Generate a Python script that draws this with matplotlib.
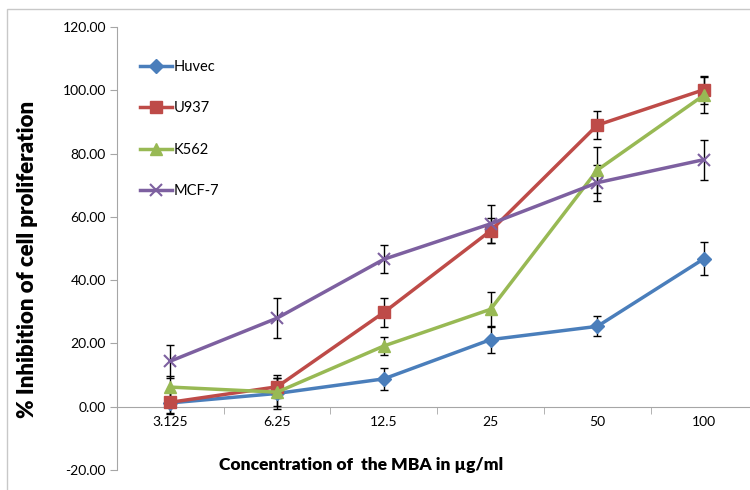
import numpy as np
import matplotlib
matplotlib.use("Agg")
import matplotlib.pyplot as plt
from matplotlib.patches import Rectangle

plt.rcParams['font.family'] = ['Lato', 'DejaVu Sans']

# ==== data ====
conc = ['3.125', '6.25', '12.5', '25', '50', '100']

huvec = [1.2, 4.2, 8.8, 21.2, 25.4, 46.8]
huvec_err = [3.5, 5.0, 3.4, 4.1, 3.2, 5.1]

u937 = [1.4, 6.3, 29.8, 55.6, 89.0, 100.2]
u937_err = [3.5, 3.6, 4.5, 4.0, 4.5, 4.4]

k562 = [6.2, 4.6, 19.2, 30.8, 74.8, 98.5]
k562_err = [3.4, 4.5, 2.9, 5.4, 7.2, 5.6]

mcf7 = [14.4, 28.0, 46.6, 57.8, 70.8, 78.1]
mcf7_err = [5.2, 6.2, 4.5, 6.1, 5.7, 6.3]

series = [
    ('Huvec', huvec, huvec_err, '#4a7ebb', 'D', 7),
    ('U937', u937, u937_err, '#be4b48', 's', 8),
    ('K562', k562, k562_err, '#98b954', '^', 8),
    ('MCF-7', mcf7, mcf7_err, '#7d60a0', 'x', 9),
]

# ==== plot ====
fig = plt.figure(figsize=(7.5, 4.9), dpi=100)
ax = fig.add_axes([117 / 750, 1 - 470 / 490, (750 - 117) / 750, (470 - 27) / 490])

x = np.arange(len(conc))
for name, vals, err, col, mk, ms in series:
    ax.errorbar(x, vals, yerr=err, fmt='none', ecolor='black', elinewidth=1.0,
                capsize=3, capthick=1.0, zorder=3)
    ax.plot(x, vals, color=col, lw=2.5, marker=mk, markersize=ms,
            markeredgewidth=1.5 if mk == 'x' else 1, label=name, zorder=4)

ax.set_xlim(-0.5, 5.43)
ax.set_ylim(-20, 120)
ax.set_yticks(np.arange(-20, 121, 20))
ax.set_yticklabels([f'{v:.2f}' for v in np.arange(-20, 121, 20)])
ax.set_xticks(x)
ax.set_xticklabels(conc)
ax.set_xticks(x[:-1] + 0.5, minor=True)

for s in ['top', 'right']:
    ax.spines[s].set_visible(False)
ax.spines['bottom'].set_position(('data', 0))
ax.spines['bottom'].set_color('#a6a6a6')
ax.spines['left'].set_color('#a6a6a6')
ax.tick_params(axis='y', colors='#a6a6a6', labelcolor='black', length=5,
               labelsize=10, pad=3)
ax.tick_params(axis='x', which='major', length=0, labelsize=10, pad=7)
ax.tick_params(axis='x', which='minor', colors='#a6a6a6', length=5)

ax.legend(loc='upper left', bbox_to_anchor=(0.016, 0.955), frameon=False,
          fontsize=10.5, labelspacing=1.88, handlelength=2.2, handletextpad=0.1)

fig.text(28 / 750, 1 - 259 / 490, '% Inhibition of cell proliferation',
         rotation=90, ha='center', va='center', fontsize=16, fontweight='heavy')
fig.text(361 / 750, 1 - 465 / 490, 'Concentration of  the MBA in µg/ml',
         ha='center', va='center', fontsize=12.5, fontweight='heavy')

fig.patches.append(Rectangle((7 / 750, -0.1), 1.2, 1 - 9 / 490 + 0.1,
                             transform=fig.transFigure, fill=False,
                             edgecolor='#c8c8c8', lw=1))

fig.savefig('out.png', dpi=100)
